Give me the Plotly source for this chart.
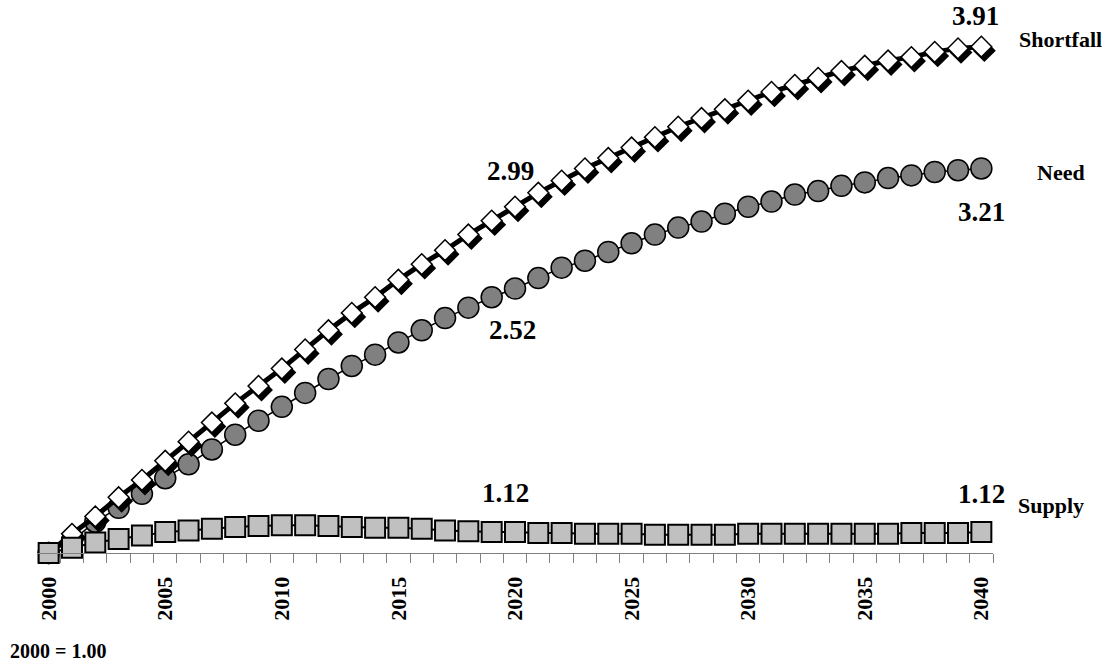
import plotly.graph_objects as go

years = list(range(2000, 2041))
supply = [1.00, 1.03, 1.06, 1.08, 1.10, 1.12, 1.13, 1.14, 1.15, 1.155,
          1.16, 1.16, 1.155, 1.15, 1.145, 1.145, 1.14, 1.13, 1.125, 1.12,
          1.12, 1.115, 1.115, 1.11, 1.11, 1.11, 1.105, 1.105, 1.105, 1.105,
          1.11, 1.11, 1.11, 1.11, 1.11, 1.11, 1.11, 1.115, 1.115, 1.115, 1.12]
need = [1.00, 1.07, 1.18, 1.26, 1.34, 1.43, 1.51, 1.595, 1.68, 1.76,
        1.84, 1.92, 2.00, 2.075, 2.14, 2.21, 2.28, 2.35, 2.41, 2.47,
        2.52, 2.58, 2.64, 2.68, 2.73, 2.78, 2.83, 2.87, 2.905, 2.95,
        2.99, 3.02, 3.06, 3.08, 3.11, 3.13, 3.155, 3.17, 3.19, 3.20, 3.21]
shortfall = [1.00, 1.11, 1.21, 1.32, 1.42, 1.53, 1.64, 1.75, 1.86, 1.96,
             2.06, 2.17, 2.28, 2.38, 2.47, 2.57, 2.66, 2.74, 2.83, 2.91,
             2.99, 3.07, 3.14, 3.21, 3.27, 3.33, 3.39, 3.45, 3.50, 3.55,
             3.60, 3.65, 3.69, 3.73, 3.77, 3.80, 3.83, 3.85, 3.88, 3.90, 3.91]
label_years = [2000, 2005, 2010, 2015, 2020, 2025, 2030, 2035, 2040]
series_names = ["Shortfall", "Need", "Supply"]
base_note = "2000 = 1.00"

FONT = "Liberation Serif, Times New Roman, serif"
XR = [1999.5, 2040.5]
YR = [1.0, 4.0]
PW, PH = 956, 522
px_x = PW / (XR[1] - XR[0])
px_y = PH / (YR[1] - YR[0])
sh_dx, sh_dy = 3, 4  # shadow offset in pixels
boundaries = [y - 0.5 for y in years] + [years[-1] + 0.5]

fig = go.Figure()

# Need (bottom layer)
fig.add_trace(go.Scatter(
    x=years, y=need, mode="lines+markers", name=series_names[1],
    line=dict(color="black", width=1.5),
    marker=dict(symbol="circle", size=21, color="#808080",
                line=dict(color="black", width=1.5)),
    cliponaxis=False, xaxis="x", yaxis="y"))

# Shortfall shadow (shifted overlay axes)
fig.add_trace(go.Scatter(
    x=years, y=shortfall, mode="markers", showlegend=False,
    marker=dict(symbol="diamond", size=16, color="black",
                line=dict(color="black", width=1.5)),
    cliponaxis=False, xaxis="x2", yaxis="y2"))

# Shortfall
fig.add_trace(go.Scatter(
    x=years, y=shortfall, mode="lines+markers", name=series_names[0],
    line=dict(color="black", width=5),
    marker=dict(symbol="diamond", size=16, color="white",
                line=dict(color="black", width=1.5)),
    cliponaxis=False, xaxis="x3", yaxis="y3"))

# Supply (top)
fig.add_trace(go.Scatter(
    x=years, y=supply, mode="lines+markers", name=series_names[2],
    line=dict(color="black", width=2),
    marker=dict(symbol="square", size=20, color="#C0C0C0",
                line=dict(color="black", width=2)),
    cliponaxis=False, xaxis="x3", yaxis="y3"))

i20 = years.index(2020)
ann = []
def val(x, y, text, yshift, xshift=0):
    ann.append(dict(x=x, y=y, xref="x", yref="y", text=f"<b>{text}</b>",
                    showarrow=False, xshift=xshift, yshift=yshift,
                    font=dict(family=FONT, size=27, color="black")))

val(2040, shortfall[-1], f"{shortfall[-1]:.2f}", 31, -6)
val(2020, shortfall[i20], f"{shortfall[i20]:.2f}", 36, -5)
val(2020, need[i20], f"{need[i20]:.2f}", -41, -3)
val(2040, need[-1], f"{need[-1]:.2f}", -44, 0)
val(2020, supply[i20], f"{supply[i20]:.2f}", 39, -10)
val(2040, supply[-1], f"{supply[-1]:.2f}", 38, 0)

def name(x, y, text, xshift, yshift):
    ann.append(dict(x=x, y=y, xref="x", yref="y", text=f"<b>{text}</b>",
                    showarrow=False, xshift=xshift, yshift=yshift,
                    font=dict(family=FONT, size=22, color="black")))

name(2040, shortfall[-1], series_names[0], 79, 7)
name(2040, need[-1], series_names[1], 80, -4)
name(2040, supply[-1], series_names[2], 70, 27)

L, T = 37, 31
W, H = 1110, 662
ann.append(dict(x=(8 - L) / PW, y=-(98) / PH, xref="paper", yref="paper",
                xanchor="left", yanchor="middle", showarrow=False,
                text=f"<b>{base_note}</b>",
                font=dict(family=FONT, size=20, color="black")))

fig.update_layout(
    template="none",
    width=W, height=H,
    margin=dict(l=L, r=W - L - PW, t=T, b=H - T - PH, autoexpand=False),
    paper_bgcolor="white", plot_bgcolor="white",
    showlegend=False,
    annotations=ann,
    xaxis=dict(range=XR, showgrid=False, zeroline=False, automargin=False,
               showline=True, linecolor="#808080", linewidth=1,
               tickmode="array", tickvals=boundaries,
               ticktext=["" for _ in boundaries],
               ticks="outside", ticklen=9, tickcolor="#808080", tickwidth=1),
    yaxis=dict(range=YR, visible=False, showgrid=False, zeroline=False),
    xaxis2=dict(range=[XR[0] - sh_dx / px_x, XR[1] - sh_dx / px_x],
                overlaying="x", visible=False, showgrid=False, zeroline=False),
    yaxis2=dict(range=[YR[0] + sh_dy / px_y, YR[1] + sh_dy / px_y],
                overlaying="y", visible=False, showgrid=False, zeroline=False),
    xaxis3=dict(range=XR, overlaying="x", side="bottom", showgrid=False,
                zeroline=False, automargin=False, showline=False,
                tickmode="array", tickvals=label_years,
                ticktext=[str(y) for y in label_years],
                ticks="outside", ticklen=14, tickcolor="rgba(0,0,0,0)",
                tickangle=-90,
                tickfont=dict(family=FONT, size=22, color="black", weight="bold")),
    yaxis3=dict(range=YR, overlaying="y", visible=False, showgrid=False, zeroline=False),
)

fig.write_html("out.html", config={"displayModeBar": False},
               post_script="document.body.style.margin='0';")
